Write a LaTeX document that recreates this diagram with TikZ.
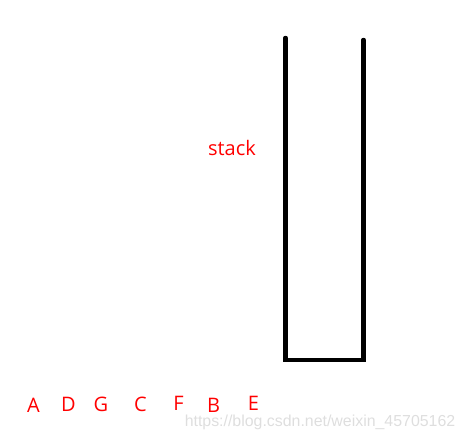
\documentclass[tikz,border=0pt]{standalone}
\usepackage{fontspec}
\setmainfont{Open Sans}
\newfontfamily\markfont{Liberation Sans}
\usetikzlibrary{positioning}
\definecolor{labelred}{RGB}{255,0,0}
\definecolor{markgray}{RGB}{222,222,222}

\begin{document}
\begin{tikzpicture}[
    x=1pt, y=-1pt,
    letter/.style={text=labelred, font=\fontsize{20}{21}\selectfont, inner sep=0pt},
    wall/.style={line width=4.5pt, line cap=round, line join=miter}
]
\useasboundingbox (0,0) rectangle (465,439);
% stack outline
\draw[wall] (285.5,38) -- (285.5,360) -- (363.5,360) -- (363.5,40);
\node[letter] (stacklbl) at (232,148) {stack};
% input sequence
\node[letter] (la) at (33.5,405) {A};
\node[letter] (ld) at (68.5,404) {D};
\node[letter] (lg) at (101,404) {G};
\node[letter] (lc) at (140.5,404.5) {C};
\node[letter] (lf) at (178.5,403) {F};
\node[letter] (lb) at (213.5,405.5) {B};
\node[letter] (le) at (253.5,403.5) {E};
\node[text=markgray, font=\markfont\fontsize{15.9}{17}\selectfont, inner sep=0pt]
    (mark) at (320,422) {https://blog.csdn.net/weixin\_45705162};
\end{tikzpicture}
\end{document}
